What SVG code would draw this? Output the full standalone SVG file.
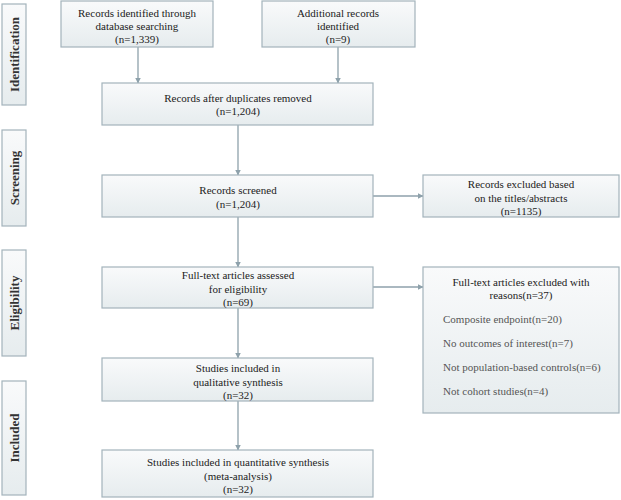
<svg xmlns="http://www.w3.org/2000/svg" width="621" height="500" viewBox="0 0 621 500">
<defs>
<linearGradient id="g" x1="0" y1="0" x2="0" y2="1">
<stop offset="0" stop-color="#f9fafb"/>
<stop offset="1" stop-color="#e6ecee"/>
</linearGradient>
<marker id="ah" viewBox="0 0 6 6" refX="5.5" refY="3" markerWidth="6" markerHeight="6" orient="auto" markerUnits="userSpaceOnUse">
<path d="M0,0 L6,3 L0,6 z" fill="#8ea1ab"/>
</marker>
<style>
.box{fill:url(#g);stroke:#a3b3bb;stroke-width:1.2}
.side{fill:url(#g);stroke:#a3b3bb;stroke-width:1.2}
.t{font-family:"Liberation Serif","Times New Roman",serif;font-size:11px;fill:#222;text-anchor:middle}
.l{font-family:"Liberation Serif","Times New Roman",serif;font-size:11px;fill:#555;text-anchor:start}
.s{font-family:"Liberation Serif","Times New Roman",serif;font-size:13px;font-weight:bold;fill:#333;text-anchor:middle}
.c{stroke:#8ea1ab;stroke-width:1.3;fill:none;marker-end:url(#ah)}
</style>
</defs>
<rect width="621" height="500" fill="#fff"/>
<g id="side-identification"><rect class="side" x="2" y="4" width="24" height="101"/><text class="s" transform="translate(18.5,54.5) rotate(-90)">Identification</text></g>
<g id="side-screening"><rect class="side" x="2" y="130" width="24" height="96"/><text class="s" transform="translate(18.5,178) rotate(-90)">Screening</text></g>
<g id="side-eligibility"><rect class="side" x="2" y="250" width="24" height="106"/><text class="s" transform="translate(18.5,303) rotate(-90)">Eligibility</text></g>
<g id="side-included"><rect class="side" x="2" y="381" width="24" height="114"/><text class="s" transform="translate(18.5,438) rotate(-90)">Included</text></g>
<g id="connectors">
<line class="c" x1="138" y1="47" x2="138" y2="83"/>
<line class="c" x1="338" y1="47" x2="338" y2="83"/>
<line class="c" x1="238" y1="125" x2="238" y2="175"/>
<line class="c" x1="373" y1="196" x2="423" y2="196"/>
<line class="c" x1="238" y1="217" x2="238" y2="267"/>
<line class="c" x1="373" y1="287" x2="423" y2="287"/>
<line class="c" x1="238" y1="308" x2="238" y2="358"/>
<line class="c" x1="238" y1="401" x2="238" y2="450"/>
</g>
<g id="n1"><rect class="box" x="61" y="1" width="152" height="46"/>
<text class="t" x="137" y="17">Records identified through</text>
<text class="t" x="137" y="30">database searching</text>
<text class="t" x="137" y="43">(n=1,339)</text></g>
<g id="n2"><rect class="box" x="262" y="1" width="153" height="46"/>
<text class="t" x="338" y="17">Additional records</text>
<text class="t" x="338" y="30">identified</text>
<text class="t" x="338" y="43">(n=9)</text></g>
<g id="n3"><rect class="box" x="102" y="83" width="271" height="42"/>
<text class="t" x="238" y="102">Records after duplicates removed</text>
<text class="t" x="238" y="115">(n=1,204)</text></g>
<g id="n4"><rect class="box" x="102" y="175" width="271" height="42"/>
<text class="t" x="238" y="194">Records screened</text>
<text class="t" x="238" y="208">(n=1,204)</text></g>
<g id="n5"><rect class="box" x="423" y="175" width="196" height="42"/>
<text class="t" x="521" y="188">Records excluded based</text>
<text class="t" x="521" y="202">on the titles/abstracts</text>
<text class="t" x="521" y="215">(n=1135)</text></g>
<g id="n6"><rect class="box" x="102" y="267" width="271" height="41"/>
<text class="t" x="238" y="279">Full-text articles assessed</text>
<text class="t" x="238" y="293">for eligibility</text>
<text class="t" x="238" y="306">(n=69)</text></g>
<g id="n7"><rect class="box" x="423" y="267" width="196" height="146"/>
<text class="t" x="521" y="286">Full-text articles excluded with</text>
<text class="t" x="521" y="299">reasons(n=37)</text>
<text class="l" x="443" y="323">Composite endpoint(n=20)</text>
<text class="l" x="443" y="347">No outcomes of interest(n=7)</text>
<text class="l" x="443" y="371">Not population-based controls(n=6)</text>
<text class="l" x="443" y="395">Not cohort studies(n=4)</text></g>
<g id="n8"><rect class="box" x="102" y="358" width="271" height="43"/>
<text class="t" x="238" y="372">Studies included in</text>
<text class="t" x="238" y="386">qualitative synthesis</text>
<text class="t" x="238" y="399">(n=32)</text></g>
<g id="n9"><rect class="box" x="102" y="450" width="271" height="47"/>
<text class="t" x="238" y="466">Studies included in quantitative synthesis</text>
<text class="t" x="238" y="480">(meta-analysis)</text>
<text class="t" x="238" y="493">(n=32)</text></g>
</svg>
